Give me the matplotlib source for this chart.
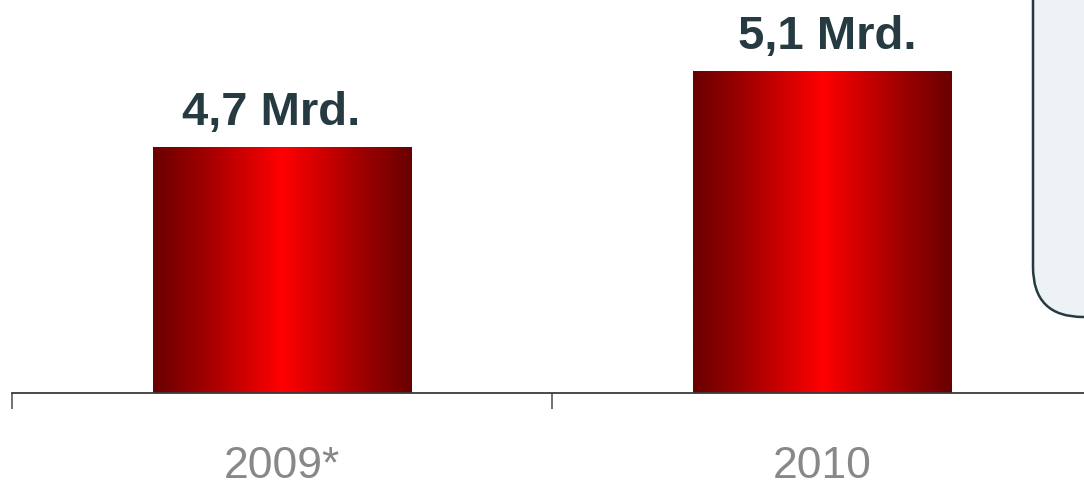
import matplotlib.pyplot as plt
import numpy as np
from matplotlib.colors import LinearSegmentedColormap
from matplotlib.patches import FancyBboxPatch

categories = ["2009*", "2010"]
values = [4.7, 5.1]
value_labels = ["4,7 Mrd.", "5,1 Mrd."]

plt.rcParams['font.family'] = ['Liberation Sans', 'DejaVu Sans']

fig = plt.figure(figsize=(10.84, 4.88), dpi=100)

# background layer in pixel units, for the rounded note box on the right
bg = fig.add_axes([0, 0, 1, 1])
bg.set_xlim(0, 1084)
bg.set_ylim(488, 0)
bg.axis("off")
box = FancyBboxPatch((1033, -80), 150, 397, boxstyle="round,pad=0,rounding_size=50",
                     facecolor="#edf2f5", edgecolor="#263a42", linewidth=1.8)
bg.add_patch(box)

ax = fig.add_axes([0, 95 / 488, 1, 393 / 488])
ax.patch.set_alpha(0)
base = 3.405
ax.set_ylim(base, 5.473)
left = -0.5 - 12 / 540
right = left + 1084 / 540
ax.set_xlim(left, right)

x = np.arange(len(values))
bars = ax.bar(x, np.array(values) - base, bottom=base, width=0.478, color="none")

red = LinearSegmentedColormap.from_list(
    "redgrad", [(0, "#6a0000"), (0.2, "#a00000"), (0.5, "#ff0000"),
                (0.8, "#a00000"), (1, "#6a0000")])
grad = np.linspace(0, 1, 256).reshape(1, -1)
for b in bars:
    x0, y0 = b.get_x(), b.get_y()
    im = ax.imshow(grad, cmap=red, aspect="auto",
                   extent=[x0, x0 + b.get_width(), y0, y0 + b.get_height()],
                   zorder=2)
    im.set_clip_path(b)

offsets = [-11, 5]
for xi, v, lab, off in zip(x, values, value_labels, offsets):
    ax.annotate(lab, (xi, v), xytext=(off * 0.72, 16), textcoords="offset points",
                ha="center", va="baseline", fontsize=34,
                fontweight="bold", color="#263a42")

for s in ["top", "left", "right"]:
    ax.spines[s].set_visible(False)
ax.spines["bottom"].set_color("#3a3a3a")
ax.spines["bottom"].set_linewidth(1.3)
ax.spines["bottom"].set_bounds(-0.5, right + 0.1)
ax.set_yticks([])
ax.set_xticks([-0.5, 0.5])
ax.set_xticklabels([])
ax.tick_params(axis="x", which="major", length=11.5, width=1.3, color="#666666")
ax.set_xticks(x, minor=True)
ax.set_xticklabels(categories, minor=True, fontsize=32, color="#888888")
ax.tick_params(axis="x", which="minor", length=0, pad=38)

fig.savefig("out.png", dpi=100)
